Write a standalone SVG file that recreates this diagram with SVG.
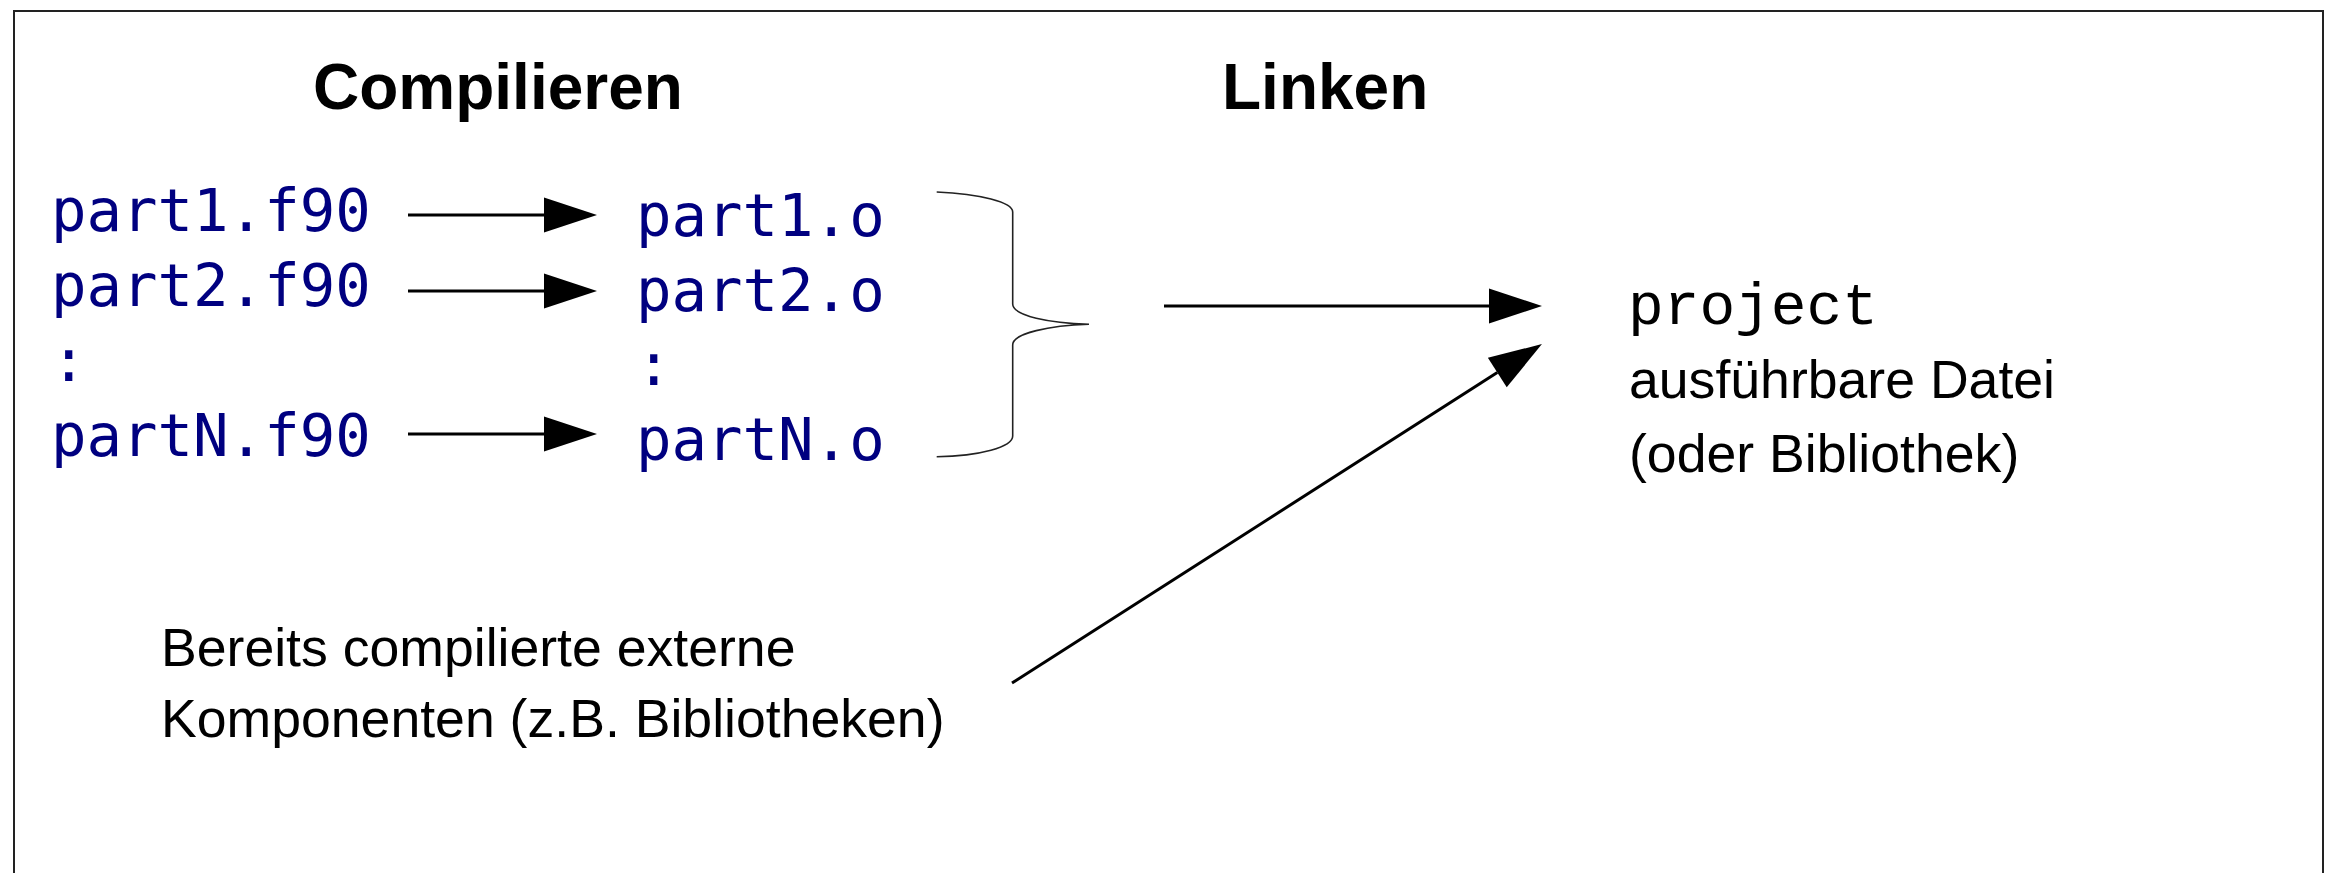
<svg xmlns="http://www.w3.org/2000/svg" width="2325" height="873" viewBox="0 0 2325 873">
<style>
.head{font-family:"Liberation Sans",Arial,sans-serif;font-weight:bold;font-size:64px;fill:#000}
.code{font-family:"DejaVu Sans Mono",monospace;font-size:59px;fill:#000080}
.proj{font-family:"Liberation Mono","DejaVu Sans Mono",monospace;font-size:59.5px;fill:#000}
.txt{font-family:"Liberation Sans",Arial,sans-serif;font-size:53.6px;fill:#000}
.conn{stroke:#000;stroke-width:3;fill:none;marker-end:url(#ah)}
.brace{stroke:#222;stroke-width:1.6;fill:none}
</style>
<defs>
<marker id="ah" markerUnits="userSpaceOnUse" markerWidth="54" markerHeight="36" refX="0" refY="17.5" orient="auto" overflow="visible">
<path d="M0,0 L53,17.5 L0,35 Z" fill="#000"/>
</marker>
</defs>
<rect x="14" y="11" width="2309" height="880" fill="#fff" stroke="#222" stroke-width="2"/>
<g id="title-compile"><text class="head" x="313" y="109">Compilieren</text></g>
<g id="title-link"><text class="head" x="1222" y="109">Linken</text></g>
<g id="sources">
<text class="code" x="51" y="231">part1.f90</text>
<text class="code" x="51" y="306">part2.f90</text>
<text class="code" x="51" y="381">:</text>
<text class="code" x="51" y="456">partN.f90</text>
</g>
<g id="objects">
<text class="code" x="636" y="236">part1.o</text>
<text class="code" x="636" y="310.5">part2.o</text>
<text class="code" x="636" y="385">:</text>
<text class="code" x="636" y="460">partN.o</text>
</g>
<g id="brace"><path class="brace" d="M936.7,192 C980,194 1012.7,202 1012.7,212 L1012.7,304 C1012.7,316 1050,323 1089,324.3 C1050,325.5 1012.7,333 1012.7,345 L1012.7,436 C1012.7,447 980,456 936.7,456.7"/></g>
<g id="project">
<text class="proj" x="1628" y="324">project</text>
<text class="txt" x="1629" y="398">ausführbare Datei</text>
<text class="txt" x="1629" y="472">(oder Bibliothek)</text>
</g>
<g id="external">
<text class="txt" x="161" y="666">Bereits compilierte externe</text>
<text class="txt" x="161" y="737">Komponenten (z.B. Bibliotheken)</text>
</g>
<g id="connectors">
<line class="conn" x1="408" y1="215" x2="544" y2="215"/>
<line class="conn" x1="408" y1="291" x2="544" y2="291"/>
<line class="conn" x1="408" y1="434" x2="544" y2="434"/>
<line class="conn" x1="1164" y1="306" x2="1489" y2="306"/>
<line class="conn" x1="1012" y1="683" x2="1497.3" y2="372.6"/>
</g>
</svg>
